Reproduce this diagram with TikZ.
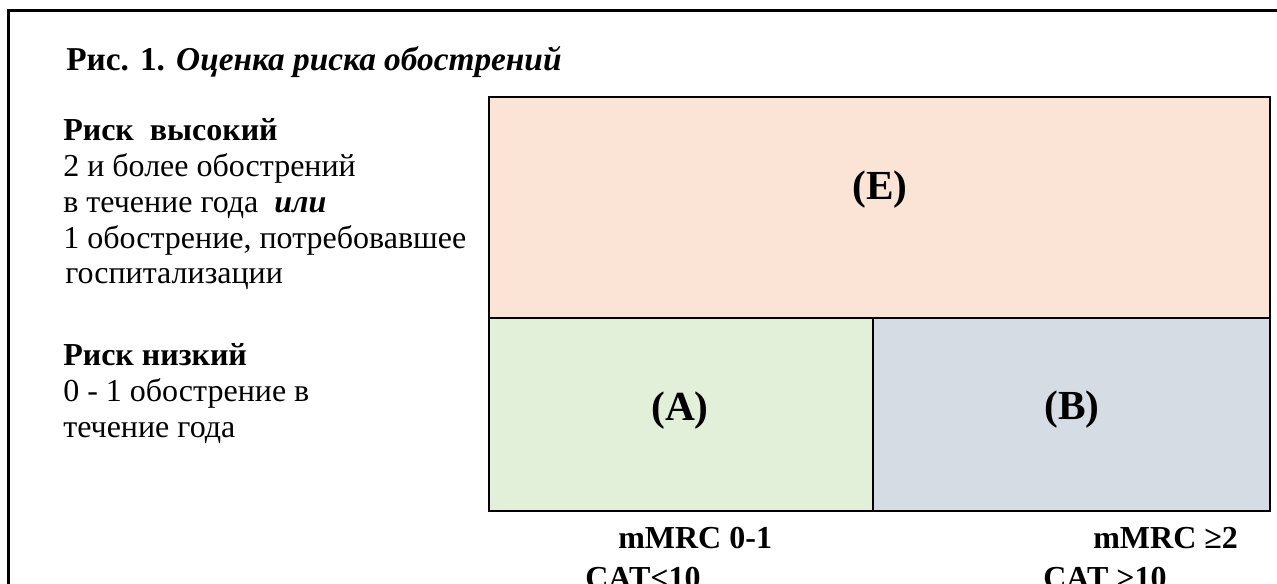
\documentclass[tikz,border=0pt]{standalone}
\usepackage{fontspec}
\setmainfont{Liberation Serif}
\usetikzlibrary{positioning}
\definecolor{zoneE}{HTML}{FBE4D5}
\definecolor{zoneA}{HTML}{E2EFD9}
\definecolor{zoneB}{HTML}{D6DCE4}
\tikzset{
  every node/.style={
    align=left,
    draw=none,
    inner sep=0pt,
  },
  txt/.style={anchor=base west, font=\fontsize{24}{27}\selectfont},
  hdr/.style={anchor=base west, font=\fontsize{24}{27}\selectfont\bfseries},
  zone/.style={draw=black, line width=1.5pt},
  zlabel/.style={font=\fontsize{31}{34}\selectfont\bfseries},
}
\newcommand{\orword}{\textbf{\textit{или}}}

\begin{document}
\begin{tikzpicture}[x=0.75pt, y=-0.75pt]
    \useasboundingbox (0,0) rectangle (1277,583);
    \clip (0,0) rectangle (1277,583);
    % frame
    \draw[line width=2.25pt] (8,600) -- (8,10) -- (1290,10);
    \node[txt, font=\fontsize{25}{28}\selectfont] (title) at (66,70) {\textbf{Рис. 1.} \textbf{\textit{Оценка риска обострений}}};
    % high risk
    \node[hdr] (high) at (63,140) {Риск\ \ высокий};
    \node[txt] (high1) at (63,176) {2 и более обострений};
    \node[txt] (high2) at (63,212) {в течение года\ \ \orword};
    \node[txt] (high3) at (63,248) {1 обострение, потребовавшее};
    \node[txt] (high4) at (65,283) {госпитализации};
    % low risk
    \node[hdr] (low) at (63,365) {Риск низкий};
    \node[txt] (low1) at (63,401) {0 - 1 обострение в};
    \node[txt] (low2) at (63,437) {течение года};
    % zones
    \draw[zone, fill=zoneE] (489,97) rectangle (1270,318);
    \draw[zone, fill=zoneA] (489,318) rectangle (873,511);
    \draw[zone, fill=zoneB] (873,318) rectangle (1270,511);
    \node[zlabel] (E) at (880,190) {(E)};
    \node[zlabel] (A) at (680,411) {(A)};
    \node[zlabel] (B) at (1072,410) {(B)};
    % axis texts
    \node[hdr] (mrcA) at (618,548) {mMRC 0-1};
    \node[hdr] (catA) at (585,588) {CAT<10};
    \node[hdr] (mrcB) at (1093,548) {mMRC ≥2};
    \node[hdr] (catB) at (1043,588) {CAT >10};
  \end{tikzpicture}
\end{document}
